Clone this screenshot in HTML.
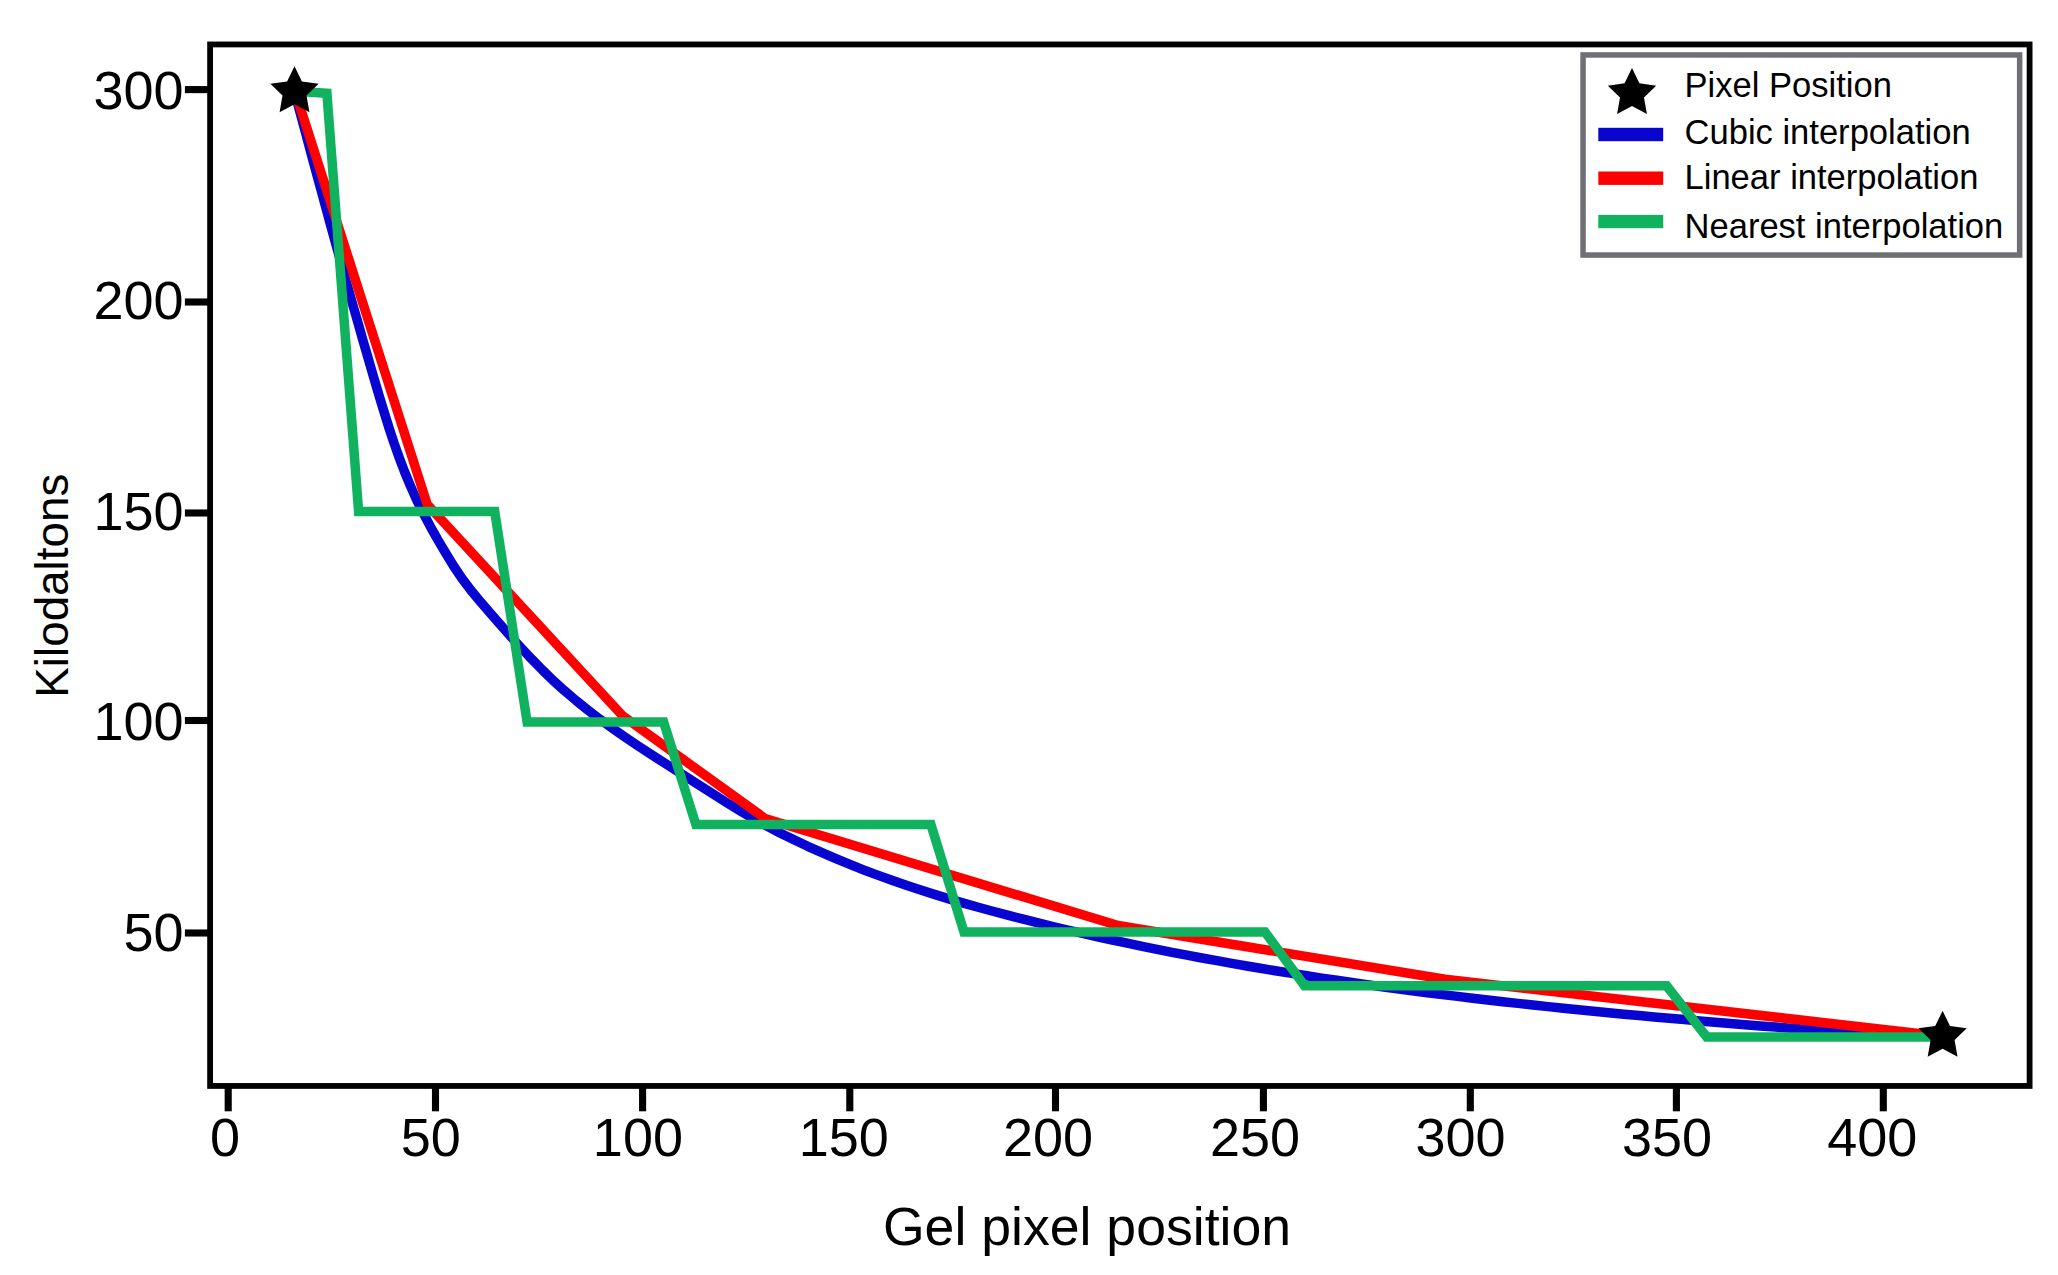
<!DOCTYPE html>
<html lang="en"><head><meta charset="utf-8"><title>Gel interpolation</title>
<style>
html,body{margin:0;padding:0;background:#fff;}
body{width:2058px;height:1275px;overflow:hidden;position:relative;}
svg{position:absolute;left:0;top:0;display:block;}
text{font-family:"Liberation Sans",sans-serif;fill:#000;}
.tk{font-size:54px;}
.lg{font-size:34.55px;}
</style></head><body>
<svg width="2058" height="1275" viewBox="0 0 2058 1275">
<rect x="0" y="0" width="2058" height="1275" fill="#ffffff"/>

<polyline points="294.5,91.7 298.4,106.4 302.4,121.1 306.4,135.8 310.3,150.5 314.3,165.2 318.3,179.9 322.3,194.5 326.3,209.2 330.3,223.9 334.3,238.5 338.4,253.2 342.4,267.8 346.5,282.5 350.6,297.1 354.8,311.8 359.0,326.4 363.1,341.0 367.4,355.6 371.6,370.2 375.9,384.8 380.2,399.4 384.7,414.0 389.2,428.5 394.0,443.0 399.1,457.3 404.5,471.6 410.3,485.6 416.5,499.6 423.3,513.3 430.5,526.8 438.0,540.1 445.8,553.2 453.6,566.0 461.9,578.4 471.0,590.4 480.8,602.2 490.9,613.8 501.0,625.4 511.1,636.8 521.4,648.1 531.8,659.2 542.4,670.0 553.3,680.6 564.5,690.7 576.0,700.5 587.8,710.0 599.9,719.2 612.2,728.1 624.7,736.8 637.3,745.4 650.1,753.8 663.0,762.1 675.9,770.3 688.8,778.6 701.7,786.8 714.7,795.0 727.7,803.2 740.7,811.1 753.8,818.8 767.1,826.1 780.5,833.2 794.0,839.8 807.7,846.3 821.4,852.4 835.3,858.4 849.3,864.2 863.4,869.8 877.6,875.1 891.9,880.3 906.3,885.2 920.7,890.0 935.2,894.6 949.8,899.1 964.4,903.4 979.1,907.5 993.8,911.5 1008.6,915.4 1023.4,919.2 1038.2,922.9 1053.0,926.5 1067.8,930.0 1082.7,933.4 1097.5,936.8 1112.4,940.0 1127.3,943.2 1142.2,946.3 1157.1,949.3 1172.0,952.3 1187.0,955.2 1201.9,958.0 1216.9,960.7 1231.8,963.4 1246.8,966.0 1261.8,968.5 1276.8,971.0 1291.8,973.4 1306.8,975.8 1321.8,978.1 1336.9,980.3 1351.9,982.5 1367.0,984.6 1382.0,986.7 1397.1,988.7 1412.2,990.7 1427.3,992.7 1442.4,994.6 1457.5,996.4 1472.6,998.2 1487.7,1000.0 1502.8,1001.7 1517.9,1003.4 1533.0,1005.0 1548.2,1006.6 1563.3,1008.2 1578.4,1009.8 1593.6,1011.3 1608.7,1012.7 1623.9,1014.2 1639.1,1015.6 1654.2,1016.9 1669.4,1018.3 1684.5,1019.6 1699.7,1020.9 1714.9,1022.2 1730.1,1023.4 1745.2,1024.7 1760.4,1025.9 1775.6,1027.1 1790.8,1028.2 1806.0,1029.3 1821.1,1030.3 1836.3,1031.3 1851.5,1032.3 1866.7,1033.1 1881.9,1033.9 1897.1,1034.6 1912.2,1035.3 1927.4,1035.8 1942.6,1036.2" fill="none" stroke="#0805d1" stroke-width="9.5" stroke-linejoin="round"/>
<polyline points="295.2,91.7 427.2,504.4 622.7,715.9 765.1,818.5 1118.0,925.5 1445.0,979.3 1942.6,1036.2" fill="none" stroke="#ff0000" stroke-width="9.5" stroke-linejoin="round"/>
<polyline points="294.5,91.3 326.9,93.2 358.6,511.4 494.7,511.4 527.1,722.0 663.6,722.0 695.9,824.6 930.9,824.6 964.0,932.0 1265.0,932.0 1304.5,985.8 1666.6,985.8 1706.7,1037.0 1942.6,1037.0" fill="none" stroke="#10b25f" stroke-width="9.5" stroke-linejoin="miter" stroke-miterlimit="10"/>
<polygon points="294.50,66.30 301.91,81.51 318.66,83.85 306.48,95.59 309.43,112.25 294.50,104.30 279.57,112.25 282.52,95.59 270.34,83.85 287.09,81.51" fill="#000"/>
<polygon points="1942.60,1010.80 1950.01,1026.01 1966.76,1028.35 1954.58,1040.09 1957.53,1056.75 1942.60,1048.80 1927.67,1056.75 1930.62,1040.09 1918.44,1028.35 1935.19,1026.01" fill="#000"/>
<rect x="210.1" y="44.45" width="1819.5" height="1041.5" fill="none" stroke="#000" stroke-width="5.8"/>
<rect x="224.65" y="1086" width="7.1" height="25.3" fill="#000"/>
<rect x="431.95" y="1086" width="7.1" height="25.3" fill="#000"/>
<rect x="639.05" y="1086" width="7.1" height="25.3" fill="#000"/>
<rect x="846.25" y="1086" width="7.1" height="25.3" fill="#000"/>
<rect x="1051.95" y="1086" width="7.1" height="25.3" fill="#000"/>
<rect x="1259.85" y="1086" width="7.1" height="25.3" fill="#000"/>
<rect x="1466.75" y="1086" width="7.1" height="25.3" fill="#000"/>
<rect x="1672.85" y="1086" width="7.1" height="25.3" fill="#000"/>
<rect x="1879.75" y="1086" width="7.1" height="25.3" fill="#000"/>
<rect x="184.9" y="86.05" width="25" height="7.1" fill="#000"/>
<rect x="184.9" y="298.45" width="25" height="7.1" fill="#000"/>
<rect x="184.9" y="509.45" width="25" height="7.1" fill="#000"/>
<rect x="184.9" y="716.95" width="25" height="7.1" fill="#000"/>
<rect x="184.9" y="929.45" width="25" height="7.1" fill="#000"/>
<text class="tk" x="225.0" y="1156.0" text-anchor="middle">0</text>
<text class="tk" x="430.8" y="1156.0" text-anchor="middle">50</text>
<text class="tk" x="637.9" y="1156.0" text-anchor="middle">100</text>
<text class="tk" x="843.8" y="1156.0" text-anchor="middle">150</text>
<text class="tk" x="1048.0" y="1156.0" text-anchor="middle">200</text>
<text class="tk" x="1255.0" y="1156.0" text-anchor="middle">250</text>
<text class="tk" x="1460.5" y="1156.0" text-anchor="middle">300</text>
<text class="tk" x="1667.0" y="1156.0" text-anchor="middle">350</text>
<text class="tk" x="1872.2" y="1156.0" text-anchor="middle">400</text>
<text class="tk" x="183.6" y="109.0" text-anchor="end">300</text>
<text class="tk" x="183.6" y="319.0" text-anchor="end">200</text>
<text class="tk" x="183.6" y="529.8" text-anchor="end">150</text>
<text class="tk" x="183.6" y="740.4" text-anchor="end">100</text>
<text class="tk" x="183.6" y="951.4" text-anchor="end">50</text>
<text x="1087" y="1245.2" text-anchor="middle" style="font-size:53.6px">Gel pixel position</text>
<text transform="translate(68.2,585.7) rotate(-90)" text-anchor="middle" style="font-size:45.8px">Kilodaltons</text>
<rect x="1583.05" y="54.95" width="436.6" height="200.1" fill="#fff" stroke="#6e7074" stroke-width="5.5"/>
<polygon points="1632.00,68.10 1639.41,83.31 1656.16,85.65 1643.98,97.39 1646.93,114.05 1632.00,106.10 1617.07,114.05 1620.02,97.39 1607.84,85.65 1624.59,83.31" fill="#000"/>
<rect x="1598.3" y="127.8" width="64.9" height="13.4" fill="#0805d1"/>
<rect x="1598.3" y="171.5" width="64.9" height="13.4" fill="#ff0000"/>
<rect x="1598.3" y="214.9" width="64.9" height="13.3" fill="#10b25f"/>
<text class="lg" x="1684.5" y="97.0">Pixel Position</text>
<text class="lg" x="1684.5" y="144.3">Cubic interpolation</text>
<text class="lg" x="1684.5" y="189.3">Linear interpolation</text>
<text class="lg" x="1684.5" y="238.4">Nearest interpolation</text>
</svg></body></html>
